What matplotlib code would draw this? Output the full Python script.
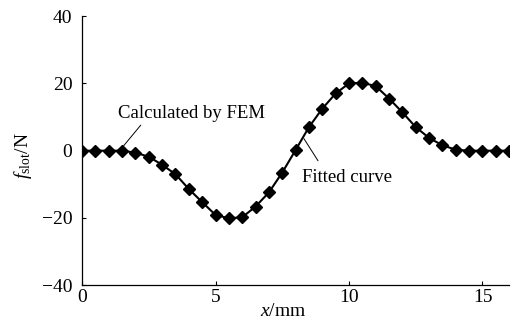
import matplotlib.pyplot as plt

plt.rcParams['font.family'] = ['Liberation Serif', 'DejaVu Serif']
plt.rcParams['mathtext.fontset'] = 'custom'
plt.rcParams['mathtext.rm'] = 'Liberation Serif'
plt.rcParams['mathtext.it'] = 'Liberation Serif:italic'

# FEM points, every 0.5 mm
x_fem = [0, 0.5, 1, 1.5, 2, 2.5, 3, 3.5, 4, 4.5, 5, 5.5, 6, 6.5, 7, 7.5,
         8, 8.5, 9, 9.5, 10, 10.5, 11, 11.5, 12, 12.5, 13, 13.5, 14, 14.5,
         15, 15.5, 16]
f_fem = [0, 0, 0, 0, -0.6, -1.8, -4.2, -7.0, -11.4, -15.3, -19.1, -20.1,
         -19.8, -16.6, -12.4, -6.5, 0.2, 7.0, 12.5, 17.0, 20.0, 20.2, 19.2,
         15.5, 11.4, 7.0, 3.8, 1.6, 0.3, 0, 0, 0, 0]

fig = plt.figure(figsize=(5.26, 3.29), dpi=100)
ax = fig.add_axes([0.156, 0.133, 0.812, 0.818])

ax.plot(x_fem, f_fem, color='black', lw=1.5, zorder=2)
ax.plot(x_fem, f_fem, ls='none', marker='D', ms=6.3, color='black', zorder=3)

ax.set_xlim(0, 16)
ax.set_ylim(-40, 40)
ax.set_xticks([0, 5, 10, 15])
ax.set_yticks([-40, -20, 0, 20, 40])
ax.set_yticklabels(['\u221240', '\u221220', '0', '20', '40'])
ax.tick_params(direction='in', length=3, width=0.8, labelsize=14)
ax.tick_params(axis='y', pad=7)
ax.tick_params(axis='x', pad=3)
ax.spines['top'].set_visible(False)
ax.spines['right'].set_visible(False)
for s in ('left', 'bottom'):
    ax.spines[s].set_linewidth(0.9)

ax.set_xlabel('$x$/mm', fontsize=14)
ax.xaxis.set_label_coords(0.47, -0.065, transform=ax.transAxes)
ax.xaxis.label.set_va('top')
ax.set_ylabel('$f_{\\mathrm{slot}}$/N', fontsize=14)
ax.yaxis.set_label_coords(-0.112, 0.48)

ax.text(1.35, 9.6, 'Calculated by FEM', fontsize=13.5, ha='left', va='baseline')
ax.annotate('', xy=(1.5, 0.9), xytext=(2.2, 7.6),
            arrowprops=dict(arrowstyle='-', color='black', lw=0.7,
                            shrinkA=0, shrinkB=0))
ax.text(8.25, -9.4, 'Fitted curve', fontsize=13.5, ha='left', va='baseline')
ax.annotate('', xy=(8.31, 3.6), xytext=(8.84, -3.0),
            arrowprops=dict(arrowstyle='-', color='black', lw=0.7,
                            shrinkA=0, shrinkB=0))

fig.savefig('out.png', dpi=100)
